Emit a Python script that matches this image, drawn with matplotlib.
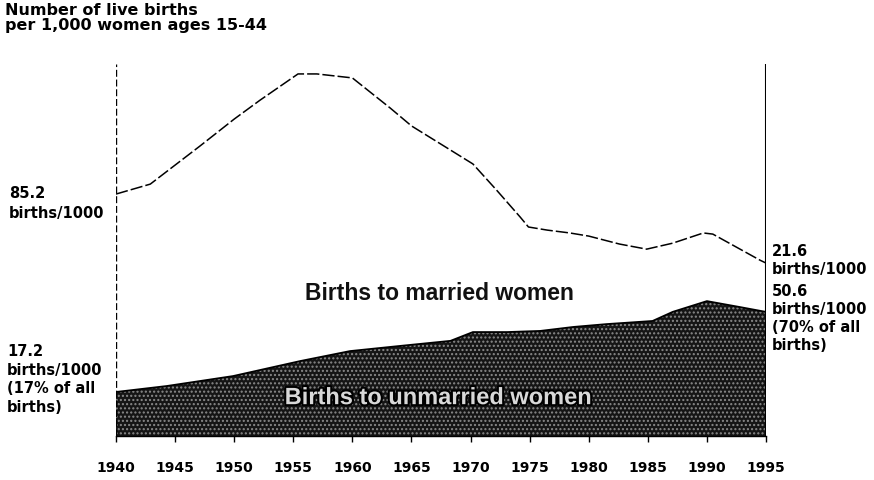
import matplotlib
matplotlib.use("Agg")
import matplotlib.pyplot as plt
import matplotlib.patheffects as pe

# Total (married) births line: years and values (births per 1,000 women)
line_years = [1940, 1942.9, 1945, 1947.1, 1950, 1952.2, 1955.4, 1957, 1960, 1963.2,
              1965, 1968.3, 1970.2, 1972.2, 1974.2, 1974.9, 1976.5, 1978.4, 1980,
              1982.6, 1984.9, 1987.1, 1989.7, 1990.5, 1994.5, 1995]
line_vals = [85.2, 88.7, 95.4, 102.1, 111.6, 118.3, 127.5, 127.5, 126.1, 115.5,
             109.2, 100.7, 95.8, 86.6, 77.1, 73.6, 72.5, 71.5, 70.4,
             67.6, 65.8, 67.9, 71.5, 71.1, 61.9, 60.9]

# Births to unmarried women (filled area)
area_years = [1940, 1944.3, 1949.9, 1955.6, 1959.8, 1964.0, 1968.3, 1970.2, 1973.1,
              1975.9, 1978.7, 1981.5, 1985.4, 1987.1, 1990.0, 1992.8, 1995]
area_vals = [15.5, 17.6, 21.1, 26.4, 29.9, 31.7, 33.5, 36.6, 36.6,
             37.0, 38.4, 39.4, 40.5, 43.7, 47.5, 45.4, 43.7]

tick_years = [1940, 1945, 1950, 1955, 1960, 1965, 1970, 1975, 1980, 1985, 1990, 1995]

fig = plt.figure(figsize=(8.74, 4.81), dpi=100)
ax = fig.add_axes([116/874, 1-437/481, 650/874, 372/481])
ax.set_xlim(1940, 1995)
ax.set_ylim(0, 131)

ax.fill_between(area_years, 0, area_vals, facecolor="#151515", edgecolor="#8a8a8a",
                hatch="....", linewidth=0)
ax.plot(area_years, area_vals, color="black", lw=1.3)
ax.plot(line_years, line_vals, color="black", lw=1.1, linestyle=(0, (8, 2)))

for s in ["top", "left", "right"]:
    ax.spines[s].set_visible(False)
ax.spines["bottom"].set_linewidth(1.0)
ax.axvline(1940, color="black", lw=1.0, linestyle=(0, (5, 2)))
ax.axvline(1995, color="black", lw=1.5)

ax.set_yticks([])
ax.set_xticks(tick_years)
ax.set_xticklabels([str(y) for y in tick_years], fontweight="bold", fontsize=10,
                   family=["Liberation Sans Narrow", "DejaVu Sans"])
ax.tick_params(axis="x", length=4, width=1, pad=13, direction="out")

bold = dict(fontweight="bold", family=["DejaVu Sans"], color="black")
fig.text(5/874, 1-3/481, "Number of live births\nper 1,000 women ages 15-44",
         fontsize=11.5, va="top", ha="left", linespacing=1.0, **bold)
fig.text(9/874, 1-186/481, "85.2\nbirths/1000", fontsize=10.5, va="top", ha="left",
         linespacing=1.4, **bold)
fig.text(7/874, 1-344/481, "17.2\nbirths/1000\n(17% of all\nbirths)", fontsize=10.5,
         va="top", ha="left", linespacing=1.3, **bold)
fig.text(772/874, 1-244/481, "21.6\nbirths/1000", fontsize=10.5, va="top", ha="left",
         linespacing=1.25, **bold)
fig.text(772/874, 1-284/481, "50.6\nbirths/1000\n(70% of all\nbirths)", fontsize=10.5,
         va="top", ha="left", linespacing=1.25, **bold)

ax.text(1967.4, 50.5, "Births to married women", fontsize=16.5, ha="center",
        va="center", fontweight="bold", family=["Liberation Sans", "DejaVu Sans"],
        color="#111111")
ax.text(1967.3, 13.5, "Births to unmarried women", fontsize=17, ha="center",
        va="center", fontweight="bold", family=["Liberation Sans", "DejaVu Sans"],
        color="#d8d8d8",
        path_effects=[pe.withStroke(linewidth=3, foreground="black")])

fig.savefig("out.png", dpi=100)
